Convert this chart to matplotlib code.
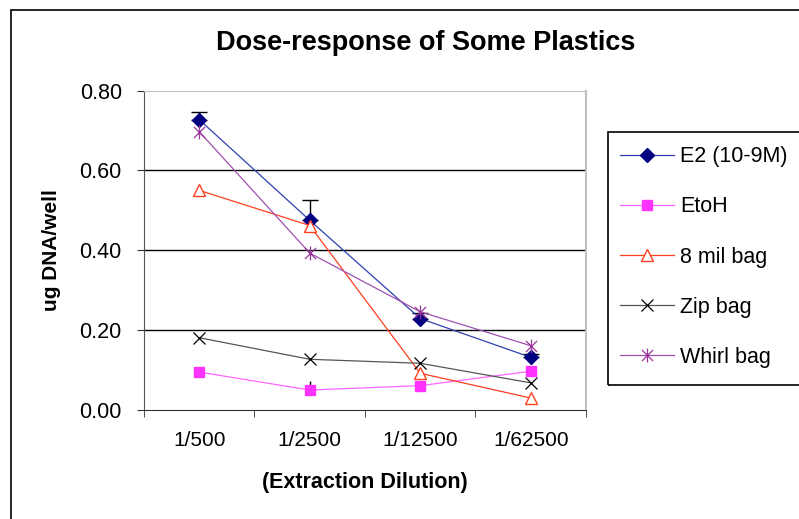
import matplotlib
matplotlib.use("Agg")
import matplotlib.pyplot as plt
from matplotlib.path import Path
from matplotlib.patches import Rectangle
import numpy as np

plt.rcParams['font.family'] = ['Liberation Sans', 'DejaVu Sans']

# data
dilutions = ["1/500", "1/2500", "1/12500", "1/62500"]
e2 = [0.727, 0.475, 0.229, 0.132]
e2_err = [0.018, 0.052, 0.015, 0.008]
etoh = [0.095, 0.050, 0.061, 0.097]
etoh_err = [0.0, 0.022, 0.0, 0.0]
mil8 = [0.550, 0.462, 0.092, 0.030]
zipbag = [0.181, 0.127, 0.117, 0.068]
whirl = [0.697, 0.393, 0.246, 0.161]

# asterisk marker: vertical bar plus an x
asterisk = Path([(0, -1), (0, 1), (-0.8, -0.8), (0.8, 0.8), (-0.8, 0.8), (0.8, -0.8)],
                [Path.MOVETO, Path.LINETO, Path.MOVETO, Path.LINETO, Path.MOVETO, Path.LINETO])

fig = plt.figure(figsize=(7.99, 5.19), dpi=100)
ax = fig.add_axes([0.1802, 0.2100, 0.5532, 0.6156])

x = np.arange(len(dilutions))

ax.errorbar(x, e2, yerr=[np.zeros(4), e2_err], fmt='none', ecolor='black',
            elinewidth=1, capsize=5.5, capthick=1, zorder=2)
ax.errorbar(x, etoh, yerr=[np.zeros(4), etoh_err], fmt='none', ecolor='black',
            elinewidth=1, capsize=0, zorder=2)

h1, = ax.plot(x, e2, color='#3040b0', lw=0.9, marker='D', ms=7,
              mfc='#000080', mec='#000080', label='E2 (10-9M)', zorder=3)
h2, = ax.plot(x, etoh, color='#ff66ff', lw=0.9, marker='s', ms=7,
              mfc='#ff33ff', mec='#ff33ff', label='EtoH', zorder=3)
h3, = ax.plot(x, mil8, color='#ff4020', lw=0.9, marker='^', ms=9,
              mfc='white', mec='#ff4020', mew=1, label='8 mil bag', zorder=3)
h4, = ax.plot(x, zipbag, color='#555555', lw=0.9, marker='x', ms=9,
              mec='black', mew=0.9, label='Zip bag', zorder=3)
h5, = ax.plot(x, whirl, color='#a050b0', lw=0.9, marker=asterisk, ms=10,
              mec='#993399', mew=0.9, label='Whirl bag', zorder=3)

ax.set_xlim(-0.5, 3.5)
ax.set_ylim(0, 0.8)
ax.set_yticks([0, 0.2, 0.4, 0.6, 0.8])
ax.set_yticklabels(["%.2f" % v for v in [0, 0.2, 0.4, 0.6, 0.8]])
ax.set_xticks(x)
ax.set_xticklabels(dilutions)
ax.set_xticks([-0.5, 0.5, 1.5, 2.5, 3.5], minor=True)
ax.tick_params(axis='x', which='major', length=0, pad=15, labelsize=15)
ax.tick_params(axis='x', which='minor', length=5, direction='out', color='#333333')
ax.tick_params(axis='y', length=5, direction='out', pad=11, labelsize=15.5, color='#333333')

for yv in [0.2, 0.4, 0.6]:
    ax.axhline(yv, color='black', lw=1, zorder=1)

ax.spines['top'].set_color('#c0c0c0')
ax.spines['right'].set_color('#c0c0c0')
ax.spines['right'].set_linewidth(1.5)
ax.spines['left'].set_color('#555555')
ax.spines['bottom'].set_color('#333333')

ax.set_xlabel("(Extraction Dilution)", fontsize=15.5, fontweight='bold', labelpad=16)
ax.set_ylabel("ug DNA/well", fontsize=15, fontweight='bold', labelpad=13)

fig.text(0.533, 0.918, "Dose-response of Some Plastics", ha='center', va='center',
         fontsize=19.5, fontweight='bold')

# outer chart border
fig.patches.append(Rectangle((0.0138, -0.1), 1.2, 0.9807 + 0.1, transform=fig.transFigure,
                             fill=False, edgecolor='black', lw=1.2))
# legend box
fig.patches.append(Rectangle((0.7606, 0.258), 0.3, 0.487, transform=fig.transFigure,
                             fill=False, edgecolor='black', lw=1.2))

fig.legend(handles=[h1, h2, h3, h4, h5], loc='upper left', bbox_to_anchor=(0.7652, 0.7345),
           frameon=False, fontsize=15.5, handlelength=2.5, labelspacing=1.35,
           handletextpad=0.28, borderaxespad=0)

fig.savefig("out.png", dpi=100)
